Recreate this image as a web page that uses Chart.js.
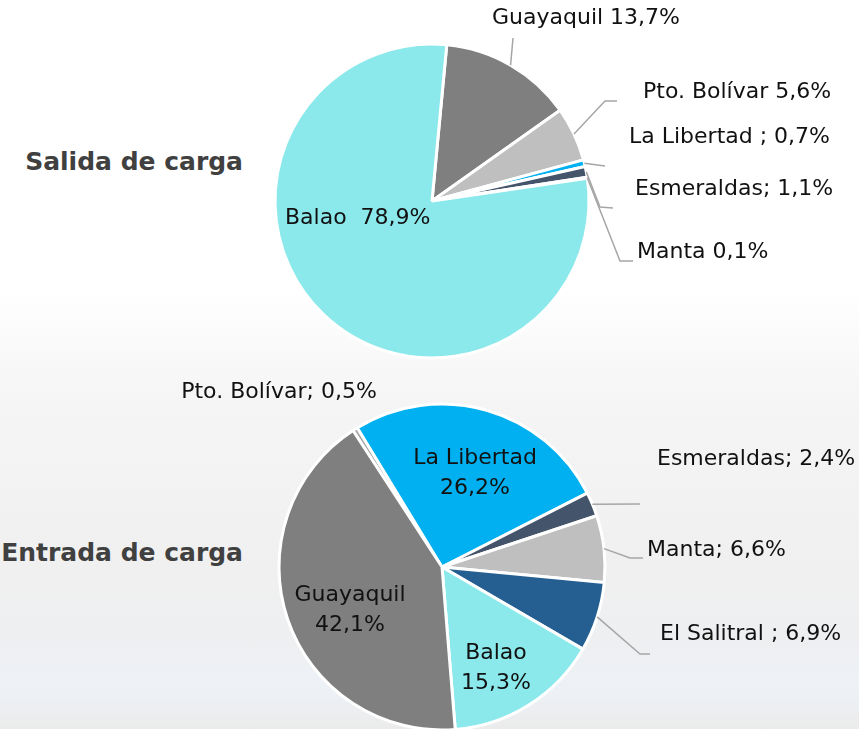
<!DOCTYPE html>
<html>
<head>
<meta charset="utf-8">
<script src="https://cdn.jsdelivr.net/npm/chart.js@4/dist/chart.umd.min.js"></script>
<style>
html,body{margin:0;padding:0;width:859px;height:729px;overflow:hidden;}
body{position:relative;font-family:'DejaVu Sans',sans-serif;
 background:linear-gradient(to bottom,#ffffff 0px,#ffffff 290px,#f5f5f5 400px,#f0f0f0 560px,#eeeff1 640px,#edf1f6 690px,#ebebeb 729px);}
canvas{position:absolute;left:0;top:0;}
.title{position:absolute;right:616px;font-weight:bold;color:#404040;font-size:25px;white-space:nowrap;line-height:30px;}
</style>
</head>
<body>
<div class="title" style="top:147px">Salida de carga</div>
<div class="title" style="top:538px">Entrada de carga</div>
<canvas id="c1" width="859" height="729"></canvas>
<canvas id="c2" width="859" height="760"></canvas>
<script>
// ---- Data: Salida de carga ----
const salidaLabels = ['Guayaquil', 'Pto. Bolívar', 'La Libertad', 'Esmeraldas', 'Manta', 'Balao'];
const salidaValues = [13.7, 5.6, 0.7, 1.1, 0.1, 78.9];
const salidaColors = ['#7f7f7f', '#bfbfbf', '#00b0f0', '#44546a', '#255e91', '#8ce9eb'];

// ---- Data: Entrada de carga ----
const entradaLabels = ['Pto. Bolívar', 'La Libertad', 'Esmeraldas', 'Manta', 'El Salitral', 'Balao', 'Guayaquil'];
const entradaValues = [0.5, 26.2, 2.4, 6.6, 6.9, 15.3, 42.1];
const entradaColors = ['#a5a5a5', '#00b0f0', '#44546a', '#bfbfbf', '#255e91', '#8ce9eb', '#7f7f7f'];

function fmtPct(v){ return v.toFixed(1).replace('.', ',') + '%'; }

const sliceLabelPlugin = {
  id: 'sliceLabels',
  afterDatasetsDraw(chart, args, opts) {
    const ctx = chart.ctx;
    const meta = chart.getDatasetMeta(0);
    const vals = chart.data.datasets[0].data;
    const labs = chart.data.labels;
    ctx.save();
    ctx.font = opts.font;
    ctx.fillStyle = opts.color;
    (opts.items || []).forEach((it, i) => {
      if (!it) return;
      const arc = meta.data[i];
      const p = arc.getProps(['x','y','startAngle','endAngle','outerRadius'], true);
      const cx = p.x, cy = p.y;
      if (it.leader) {
        const mid = (p.startAngle + p.endAngle) / 2;
        ctx.beginPath();
        ctx.moveTo(cx + Math.cos(mid) * p.outerRadius, cy + Math.sin(mid) * p.outerRadius);
        it.leader.forEach(([dx, dy]) => ctx.lineTo(cx + dx, cy + dy));
        ctx.strokeStyle = opts.lineColor;
        ctx.lineWidth = 1.5;
        ctx.stroke();
      }
      const pct = fmtPct(vals[i]);
      const lines = it.stack ? [labs[i], pct] : [labs[i] + it.sep + pct];
      ctx.textAlign = it.align;
      ctx.textBaseline = 'middle';
      lines.forEach((t, k) => ctx.fillText(t, cx + it.dx, cy + it.dy + k * opts.lineHeight));
    });
    ctx.restore();
  }
};

const labelFont = '22px "DejaVu Sans"';

new Chart(document.getElementById('c1'), {
  type: 'pie',
  data: {
    labels: salidaLabels,
    datasets: [{ data: salidaValues, backgroundColor: salidaColors, borderColor: '#ffffff', borderWidth: 3 }]
  },
  options: {
    responsive: false, animation: false, devicePixelRatio: 1,
    rotation: 5.4, radius: 157,
    layout: { padding: { left: 275, right: 270, top: 44, bottom: 371 } },
    plugins: {
      legend: { display: false }, tooltip: { enabled: false },
      sliceLabels: {
        font: labelFont, color: '#111111', lineColor: '#a6a6a6', lineHeight: 30,
        items: [
          { sep: ' ', align: 'center', dx: 154, dy: -183, leader: [[81, -163]] },
          { sep: ' ', align: 'left', dx: 211, dy: -109, leader: [[173, -100], [185, -100]] },
          { sep: ' ; ', align: 'left', dx: 197, dy: -64, leader: [[173, -35]] },
          { sep: '; ', align: 'left', dx: 203, dy: -12, leader: [[168, 6], [181, 7]] },
          { sep: ' ', align: 'left', dx: 205, dy: 51, leader: [[188, 60], [201, 60]] },
          { sep: '  ', align: 'left', dx: -147, dy: 17 }
        ]
      }
    }
  },
  plugins: [sliceLabelPlugin]
});

new Chart(document.getElementById('c2'), {
  type: 'pie',
  data: {
    labels: entradaLabels,
    datasets: [{ data: entradaValues, backgroundColor: entradaColors, borderColor: '#ffffff', borderWidth: 3 }]
  },
  options: {
    responsive: false, animation: false, devicePixelRatio: 1,
    rotation: -33.1, radius: 163,
    layout: { padding: { left: 279, right: 254, top: 404, bottom: 30 } },
    plugins: {
      legend: { display: false }, tooltip: { enabled: false },
      sliceLabels: {
        font: labelFont, color: '#111111', lineColor: '#a6a6a6', lineHeight: 30,
        items: [
          { sep: '; ', align: 'center', dx: -163, dy: -175 },
          { stack: true, align: 'center', dx: 33, dy: -109 },
          { sep: '; ', align: 'left', dx: 215, dy: -108, leader: [[198, -63]] },
          { sep: '; ', align: 'left', dx: 205, dy: -17, leader: [[188, -9], [201, -9]] },
          { sep: ' ; ', align: 'left', dx: 218, dy: 67, leader: [[198, 87], [208, 87]] },
          { stack: true, align: 'center', dx: 54, dy: 86 },
          { stack: true, align: 'center', dx: -92, dy: 28 }
        ]
      }
    }
  },
  plugins: [sliceLabelPlugin]
});
</script>
</body>
</html>
